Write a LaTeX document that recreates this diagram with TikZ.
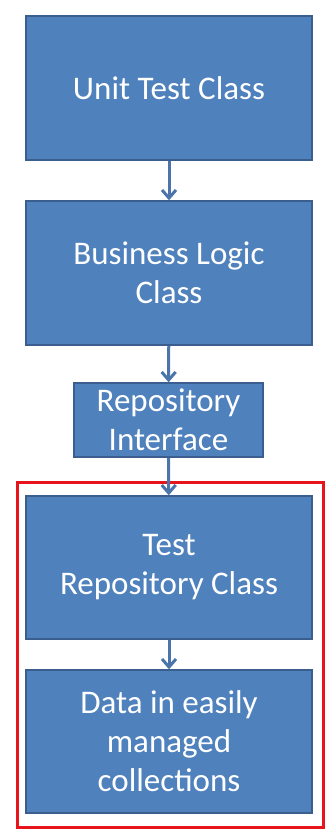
\documentclass[tikz,border=0pt]{standalone}
\usepackage{fontspec}
\setmainfont{Carlito}
\usetikzlibrary{arrows.meta}
\definecolor{boxblue}{HTML}{4F81BD}
\definecolor{boxedge}{HTML}{3A5F8E}
\definecolor{arrblue}{HTML}{4A74AA}
\definecolor{framered}{HTML}{E8141C}
\tikzstyle{bx}=[shape=rectangle, draw=boxedge, line width=1.5pt, fill=boxblue, text=white, align=center, inner sep=0, minimum width=286, minimum height=144, font=\fontsize{33}{39}\selectfont]
\tikzstyle{arr}=[draw=arrblue, line width=3pt, -{Straight Barb[length=8pt, width=14pt, line width=3pt]}]

\begin{document}
\begin{tikzpicture}[x=1pt, y=-1pt]
\useasboundingbox (0,0) rectangle (325,833);
\draw[framered, line width=3pt] (17,482) rectangle (323,827);
\node at (169,88)[bx](0){Unit Test Class};
\node at (169,273)[bx](1){Business Logic\\Class};
\node at (168.5,420)[bx, minimum width=189, minimum height=74](2){Repository\\Interface};
\node at (169,567.5)[bx, minimum height=143](3){Test\\Repository Class};
\node at (169,741.5)[bx, minimum height=143](4){Data in easily\\managed\\collections};
\foreach \x/\y in {0/1,1/2,2/3,3/4} {\draw[arr] (\x)--(\y);}
\end{tikzpicture}
\end{document}
